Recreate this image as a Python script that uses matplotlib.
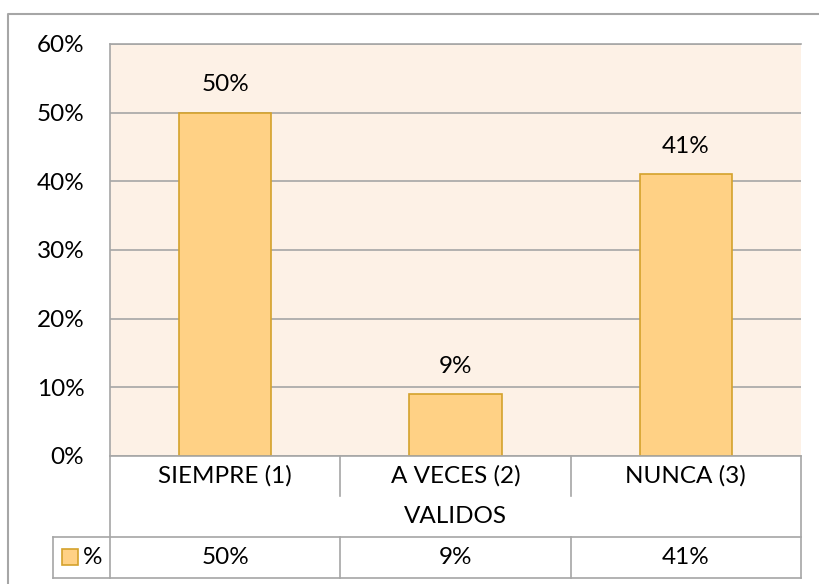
import matplotlib.pyplot as plt
from matplotlib.patches import Rectangle

# Data
categories = ['SIEMPRE (1)', 'A VECES (2)', 'NUNCA (3)']
group_label = 'VALIDOS'
series_name = '%'
values = [0.50, 0.09, 0.41]
value_labels = ['50%', '9%', '41%']
yticks = [0.0, 0.1, 0.2, 0.3, 0.4, 0.5, 0.6]

plt.rcParams['font.family'] = ['Lato', 'DejaVu Sans']
FS = 17.5
W, H = 819, 584
bg = '#FDF1E6'
bar_fill = '#FFD185'
bar_edge = '#D4A22C'
line_col = '#A6A6A6'

fig = plt.figure(figsize=(W / 100, H / 100), dpi=100)

# plot area in pixel coordinates
x0, x1, y_top, y_bot = 110, 801, 44, 456
ax = fig.add_axes([x0 / W, (H - y_bot) / H, (x1 - x0) / W, (y_bot - y_top) / H])
ax.set_facecolor(bg)
ax.set_xlim(-0.5, len(categories) - 0.5)
ax.set_ylim(0, 0.6)
ax.set_yticks(yticks)
ax.set_yticklabels([f'{int(round(t * 100))}%' for t in yticks], fontsize=FS)
ax.tick_params(axis='y', length=0, pad=18.5)
ax.set_xticks([])
ax.grid(axis='y', color=line_col, linewidth=1.2)
ax.set_axisbelow(True)
for s in ['right', 'bottom']:
    ax.spines[s].set_visible(False)
ax.spines['top'].set_color(line_col)
ax.spines['top'].set_linewidth(1.2)
ax.spines['left'].set_color(line_col)
ax.spines['left'].set_linewidth(1.2)

xs = range(len(categories))
ax.bar(xs, values, width=0.4, color=bar_fill, edgecolor=bar_edge, linewidth=1.2, zorder=3)
for x, v, lab in zip(xs, values, value_labels):
    ax.annotate(lab, (x, v), xytext=(0, 28), textcoords='offset pixels',
                ha='center', va='center', fontsize=FS)

# overlay in pixel coordinates for the data table and chart frame
ov = fig.add_axes([0, 0, 1, 1], facecolor='none')
ov.set_xlim(0, W)
ov.set_ylim(H, 0)
ov.axis('off')

lk = dict(color=line_col, linewidth=1.2)
# outer chart frame
ov.plot([8, 8, W + 5], [H + 5, 14, 14], color='#A6A6A6', linewidth=1.5)

col_w = (x1 - x0) / len(categories)
r1, r2, r3, r4 = 456, 496, 537, 578
ov.plot([x0, x1], [r1, r1], **lk)
ov.plot([53, x1], [r3, r3], **lk)
ov.plot([53, x1], [r4, r4], **lk)
ov.plot([x0, x0], [r1, r4], **lk)
ov.plot([x1, x1], [r1, r4], **lk)
ov.plot([53, 53], [r3, r4], **lk)
for i in range(1, len(categories)):
    xd = x0 + i * col_w
    ov.plot([xd, xd], [r1, r2], **lk)
    ov.plot([xd, xd], [r3, r4], **lk)

for i, (cat, lab) in enumerate(zip(categories, value_labels)):
    xc = x0 + (i + 0.5) * col_w
    ov.text(xc, (r1 + r2) / 2, cat, ha='center', va='center', fontsize=FS)
    ov.text(xc, (r3 + r4) / 2, lab, ha='center', va='center', fontsize=FS)
ov.text((x0 + x1) / 2, (r2 + r3) / 2, group_label, ha='center', va='center', fontsize=FS)

# legend key
ov.add_patch(Rectangle((62, 549), 16, 16, facecolor=bar_fill, edgecolor=bar_edge, linewidth=1.2))
ov.text(83, (r3 + r4) / 2, series_name, ha='left', va='center', fontsize=FS)

fig.savefig('out.png', dpi=100, facecolor='white')
